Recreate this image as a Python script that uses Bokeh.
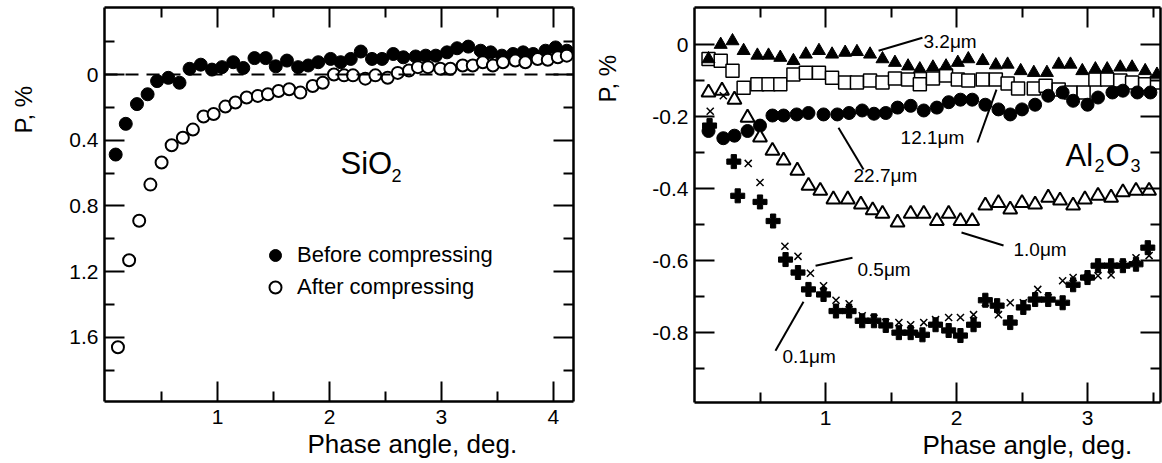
from bokeh.plotting import figure
from bokeh.models import (Range1d, LinearAxis, FixedTicker, Span, Label, Title,
                          CustomJSTickFormatter)
from bokeh.layouts import row
from bokeh.embed import file_html
from bokeh.resources import INLINE

FONT = "Liberation Sans"
INK = "#000000"

# ---------------- Left panel: SiO2 ----------------
sio2_before_x = [0.09, 0.18, 0.28, 0.375, 0.46, 0.56, 0.66, 0.75, 0.85, 0.95, 1.04, 1.14,
                 1.23, 1.33, 1.43, 1.52, 1.62, 1.72, 1.81, 1.90, 2.01, 2.10, 2.19, 2.28,
                 2.38, 2.47, 2.57, 2.66, 2.77, 2.86, 2.95, 3.05, 3.14, 3.24, 3.35, 3.44,
                 3.54, 3.64, 3.73, 3.82, 3.93, 4.02, 4.12]
sio2_before_p = [0.487, 0.30, 0.18, 0.12, 0.04, 0.02, 0.05, -0.035, -0.06, -0.03, -0.045,
                 -0.075, -0.04, -0.10, -0.10, -0.05, -0.085, -0.045, -0.055, -0.075, -0.095,
                 -0.075, -0.095, -0.14, -0.095, -0.095, -0.125, -0.105, -0.11, -0.115,
                 -0.115, -0.135, -0.16, -0.17, -0.145, -0.135, -0.115, -0.125, -0.135,
                 -0.125, -0.145, -0.165, -0.145]
sio2_after_x = [0.11, 0.21, 0.30, 0.40, 0.50, 0.59, 0.69, 0.78, 0.875, 0.965, 1.07, 1.16,
                1.26, 1.36, 1.45, 1.545, 1.64, 1.74, 1.85, 1.94, 2.04, 2.13, 2.21, 2.32,
                2.41, 2.52, 2.61, 2.71, 2.79, 2.88, 2.99, 3.08, 3.19, 3.28, 3.37, 3.46,
                3.55, 3.66, 3.75, 3.86, 3.95, 4.04, 4.12]
sio2_after_p = [1.66, 1.13, 0.89, 0.67, 0.535, 0.43, 0.385, 0.335, 0.255, 0.24, 0.195, 0.17,
                0.14, 0.13, 0.12, 0.10, 0.09, 0.11, 0.07, 0.05, 0.0, 0.005, 0.005, 0.025,
                0.005, 0.02, -0.01, -0.025, -0.045, -0.045, -0.035, -0.035, -0.055, -0.055,
                -0.075, -0.055, -0.075, -0.085, -0.075, -0.095, -0.09, -0.105, -0.115]
sio2_series = ["Before compressing", "After compressing"]

left_x_ticks = [1, 2, 3, 4]
left_x_labels = ["1", "2", "3", "4"]
left_x_minor = [0.5, 1.5, 2.5, 3.5]
left_y_ticks = [0, 0.4, 0.8, 1.2, 1.6]
left_y_labels = ["0", "0.4", "0.8", "1.2", "1.6"]
left_y_minor = [-0.2, 0.2, 0.6, 1.0, 1.4, 1.8]

# ---------------- Right panel: Al2O3 ----------------
al_32_x = [0.107, 0.20, 0.29, 0.375, 0.48, 0.565, 0.655, 0.755, 0.85, 0.95, 1.05, 1.15,
           1.24, 1.34, 1.435, 1.53, 1.63, 1.72, 1.82, 1.92, 2.01, 2.09, 2.20, 2.30, 2.39,
           2.49, 2.59, 2.69, 2.78, 2.87, 2.96, 3.06, 3.15, 3.25, 3.34, 3.44, 3.53]
al_32_p = [-0.04, 0.0, 0.01, -0.017, -0.03, -0.03, -0.036, -0.045, -0.027, -0.017, -0.027,
           -0.022, -0.02, -0.027, -0.04, -0.05, -0.06, -0.068, -0.063, -0.06, -0.05, -0.04,
           -0.045, -0.057, -0.055, -0.073, -0.078, -0.078, -0.055, -0.055, -0.073, -0.068,
           -0.068, -0.063, -0.063, -0.073, -0.083]
al_121_x = [0.107, 0.20, 0.29, 0.375, 0.48, 0.565, 0.655, 0.755, 0.85, 0.95, 1.05, 1.15,
            1.24, 1.34, 1.435, 1.53, 1.63, 1.72, 1.82, 1.92, 2.01, 2.09, 2.20, 2.30, 2.39,
            2.47, 2.59, 2.68, 2.78, 2.87, 2.97, 3.06, 3.15, 3.25, 3.34, 3.44, 3.53]
al_121_p = [-0.04, -0.045, -0.073, -0.12, -0.11, -0.11, -0.11, -0.083, -0.078, -0.078,
            -0.092, -0.105, -0.105, -0.10, -0.105, -0.094, -0.097, -0.11, -0.094, -0.086,
            -0.097, -0.10, -0.097, -0.097, -0.108, -0.122, -0.122, -0.114, -0.125, -0.133,
            -0.133, -0.097, -0.097, -0.10, -0.105, -0.11, -0.105]
al_227_x = [0.107, 0.22, 0.305, 0.405, 0.50, 0.595, 0.68, 0.78, 0.87, 0.985, 1.09, 1.18,
            1.28, 1.37, 1.46, 1.55, 1.65, 1.75, 1.85, 1.94, 2.03, 2.12, 2.22, 2.32, 2.41,
            2.50, 2.60, 2.70, 2.81, 2.89, 3.00, 3.08, 3.19, 3.27, 3.38, 3.48]
al_227_p = [-0.24, -0.26, -0.253, -0.24, -0.225, -0.197, -0.197, -0.194, -0.19, -0.194,
            -0.194, -0.19, -0.183, -0.192, -0.19, -0.175, -0.17, -0.183, -0.175, -0.16,
            -0.153, -0.153, -0.167, -0.18, -0.194, -0.18, -0.167, -0.142, -0.133, -0.156,
            -0.167, -0.147, -0.133, -0.128, -0.133, -0.133]
al_10_x = [0.107, 0.21, 0.305, 0.405, 0.50, 0.595, 0.68, 0.785, 0.87, 0.96, 1.06, 1.17,
           1.27, 1.36, 1.435, 1.55, 1.65, 1.75, 1.85, 1.94, 2.03, 2.12, 2.22, 2.32, 2.41,
           2.50, 2.60, 2.70, 2.79, 2.89, 2.98, 3.08, 3.18, 3.27, 3.37, 3.47]
al_10_p = [-0.133, -0.128, -0.153, -0.203, -0.258, -0.295, -0.322, -0.35, -0.392, -0.406,
           -0.43, -0.43, -0.444, -0.46, -0.47, -0.494, -0.47, -0.47, -0.49, -0.47, -0.49,
           -0.49, -0.447, -0.44, -0.458, -0.44, -0.444, -0.425, -0.433, -0.447, -0.43,
           -0.42, -0.425, -0.41, -0.406, -0.406]
al_05_x = [0.12, 0.22, 0.41, 0.50, 0.69, 0.79, 0.885, 0.985, 1.08, 1.18, 1.28, 1.37, 1.46,
           1.56, 1.65, 1.75, 1.84, 1.94, 2.03, 2.13, 2.22, 2.32, 2.41, 2.51, 2.62, 2.70,
           2.81, 2.89, 3.00, 3.08, 3.18, 3.27, 3.37, 3.47]
al_05_p = [-0.185, -0.142, -0.33, -0.383, -0.56, -0.588, -0.635, -0.67, -0.71, -0.72,
           -0.753, -0.76, -0.772, -0.772, -0.778, -0.772, -0.764, -0.758, -0.758, -0.75,
           -0.717, -0.75, -0.717, -0.717, -0.68, -0.703, -0.656, -0.647, -0.647, -0.642,
           -0.64, -0.61, -0.592, -0.586]
al_01_x = [0.115, 0.30, 0.33, 0.50, 0.60, 0.695, 0.79, 0.87, 0.985, 1.08, 1.18, 1.28, 1.37,
           1.46, 1.56, 1.65, 1.74, 1.84, 1.94, 2.03, 2.13, 2.22, 2.31, 2.41, 2.51, 2.60,
           2.70, 2.81, 2.89, 3.00, 3.08, 3.18, 3.27, 3.37, 3.46]
al_01_p = [-0.225, -0.325, -0.42, -0.437, -0.49, -0.597, -0.633, -0.68, -0.694, -0.74,
           -0.74, -0.767, -0.767, -0.78, -0.80, -0.80, -0.806, -0.778, -0.794, -0.808,
           -0.778, -0.71, -0.725, -0.772, -0.73, -0.708, -0.708, -0.717, -0.667, -0.647,
           -0.614, -0.614, -0.614, -0.61, -0.564]
al_names = ["3.2\u03bcm", "12.1\u03bcm", "22.7\u03bcm", "1.0\u03bcm", "0.5\u03bcm", "0.1\u03bcm"]

right_x_ticks = [1, 2, 3]
right_x_labels = ["1", "2", "3"]
right_x_minor = [0.5, 1.5, 2.5, 3.5]
right_y_ticks = [0, -0.2, -0.4, -0.6, -0.8]
right_y_labels = ["0", "-0.2", "-0.4", "-0.6", "-0.8"]
right_y_minor = [-0.1, -0.3, -0.5, -0.7, -0.9]

x_title = "Phase angle, deg."
y_title = "P, %"


def fmt(ticks, labels):
    return CustomJSTickFormatter(
        args=dict(vals=list(ticks), labs=list(labels)),
        code="const i = vals.findIndex(v => Math.abs(v - tick) < 1e-9); return i >= 0 ? labs[i] : '';")


def style_axis(ax, ticks, minor, labels, show):
    ax.ticker = FixedTicker(ticks=ticks, minor_ticks=minor)
    ax.axis_line_width = 2.5
    ax.axis_line_color = INK
    ax.major_tick_in = 20
    ax.major_tick_out = 0
    ax.minor_tick_in = 10
    ax.minor_tick_out = 0
    ax.major_tick_line_width = 2
    ax.minor_tick_line_width = 2
    ax.major_tick_line_color = INK
    ax.minor_tick_line_color = INK
    if show:
        ax.formatter = fmt(ticks, labels)
        ax.major_label_text_font = FONT
        ax.major_label_text_font_size = "21px"
        ax.major_label_text_color = INK
    else:
        ax.formatter = CustomJSTickFormatter(code="return '';")
        ax.major_label_text_font_size = "1px"
        ax.major_label_standoff = 0


def reserve(ax, gap):
    """Blank axis label: only reserves `gap` pixels between tick labels and title."""
    ax.axis_label = " "
    ax.axis_label_text_font_size = "1px"
    ax.axis_label_standoff = gap


def base_fig(xr, yr, fw, fh, bl, br, bt, bb):
    p = figure(frame_width=fw, frame_height=fh, x_range=xr, y_range=yr,
               output_backend="svg", toolbar_location=None,
               min_border_left=bl, min_border_right=br, min_border_top=bt,
               min_border_bottom=bb, background_fill_color="white",
               border_fill_color="white", outline_line_color=None)
    p.grid.visible = False
    return p


def add_axes(p, xt, xm, xl, yt, ym, yl):
    style_axis(p.xaxis[0], xt, xm, xl, True)
    p.xaxis[0].major_label_standoff = 8
    style_axis(p.yaxis[0], yt, ym, yl, True)
    p.yaxis[0].major_label_standoff = 6
    top = LinearAxis()
    style_axis(top, xt, xm, xl, False)
    p.add_layout(top, "above")
    right = LinearAxis()
    style_axis(right, yt, ym, yl, False)
    p.add_layout(right, "right")


def add_titles(p, x_off, x_gap, y_off, y_gap):
    reserve(p.xaxis[0], x_gap)
    p.add_layout(Title(text=x_title, align="left", offset=x_off, standoff=0,
                       text_font=FONT, text_font_size="26px", text_font_style="normal",
                       text_color=INK), "below")
    reserve(p.yaxis[0], y_gap)
    p.add_layout(Title(text=y_title, align="left", offset=y_off, standoff=0,
                       text_font=FONT, text_font_size="24px", text_font_style="normal",
                       text_color=INK), "left")


def lab(p, x, y, text, size, baseline="middle"):
    p.add_layout(Label(x=x, y=y, text=text, text_font=FONT, text_font_size=size,
                       text_color=INK, text_align="left", text_baseline=baseline))


# ----- left figure -----
p1 = base_fig(Range1d(-0.01, 4.18), Range1d(1.99, -0.408), 469, 394, 104, 7, 7, 62)
add_axes(p1, left_x_ticks, left_x_minor, left_x_labels,
         left_y_ticks, left_y_minor, left_y_labels)
add_titles(p1, 203, 3, 268, 26)
p1.add_layout(Span(location=0, dimension="width", line_color=INK, line_width=2,
                   line_dash="13 8"))
p1.scatter(sio2_before_x, sio2_before_p, marker="circle", size=13, fill_color=INK,
           line_color=INK, legend_label=sio2_series[0])
p1.scatter(sio2_after_x, sio2_after_p, marker="circle", size=12, fill_color="white",
           line_color=INK, line_width=2, legend_label=sio2_series[1])
lg = p1.legend[0]
lg.location = (156, 98)
lg.padding = 0
lg.margin = 0
lg.spacing = 0
lg.glyph_width = 30
lg.glyph_height = 32
lg.label_height = 32
lg.label_standoff = 7
lg.label_text_font = FONT
lg.label_text_font_size = "22px"
lg.label_text_color = INK
lg.border_line_alpha = 0
lg.background_fill_alpha = 0

lab(p1, 2.098, 0.541, "SiO", "31px", baseline="alphabetic")
lab(p1, 2.554, 0.614, "2", "18px", baseline="alphabetic")

# ----- right figure -----
p2 = base_fig(Range1d(0, 3.557), Range1d(-0.994, 0.103), 466, 395, 114, 2, 5, 63)
add_axes(p2, right_x_ticks, right_x_minor, right_x_labels,
         right_y_ticks, right_y_minor, right_y_labels)
add_titles(p2, 228, 3, 300, 25)

p2.scatter(al_121_x, al_121_p, marker="square", size=13, fill_color="white",
           line_color=INK, line_width=1.5)
p2.scatter(al_32_x, al_32_p, marker="triangle", size=13, fill_color=INK, line_color=INK)
p2.scatter(al_227_x, al_227_p, marker="circle", size=13, fill_color=INK, line_color=INK)
p2.scatter(al_10_x, al_10_p, marker="triangle", size=14, fill_color="white",
           line_color=INK, line_width=2)
p2.scatter(al_05_x, al_05_p, marker="x", size=10, line_color=INK, line_width=1.5)
p2.scatter(al_01_x, al_01_p, marker="plus", size=14, fill_color=INK, line_color=INK)

# series name labels with leader lines (annotation positions)
name_pos = [(1.748, 0.008), (1.573, -0.258), (1.214, -0.364),
            (2.435, -0.569), (1.244, -0.625), (0.672, -0.867)]
leader = [(1.405, -0.017, 1.740, 0.019), (2.160, -0.272, 2.305, -0.125),
          (1.099, -0.231, 1.290, -0.347), (2.038, -0.522, 2.359, -0.558),
          (0.924, -0.614, 1.206, -0.592), (0.618, -0.850, 0.832, -0.714)]
p2.segment(x0=[s[0] for s in leader], y0=[s[1] for s in leader],
           x1=[s[2] for s in leader], y1=[s[3] for s in leader],
           line_color=INK, line_width=2)
for (tx, ty), name in zip(name_pos, al_names):
    lab(p2, tx, ty, name, "19px")

lab(p2, 2.832, -0.308, "Al", "31px", baseline="alphabetic")
lab(p2, 3.053, -0.336, "2", "18px", baseline="alphabetic")
lab(p2, 3.137, -0.308, "O", "31px", baseline="alphabetic")
lab(p2, 3.328, -0.336, "3", "18px", baseline="alphabetic")

layout = row(p1, p2)
open("out.html", "w").write(file_html(layout, INLINE))
